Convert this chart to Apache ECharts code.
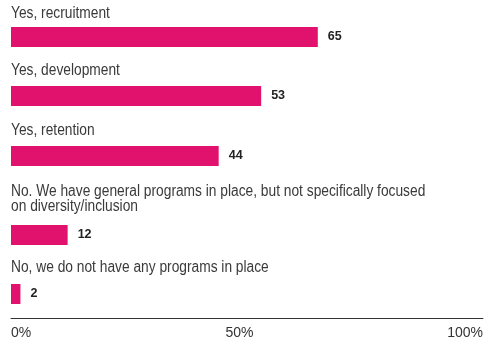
<!DOCTYPE html>
<html>
<head>
<meta charset="utf-8">
<script src="https://cdn.jsdelivr.net/npm/echarts@6/dist/echarts.min.js"></script>
<style>
html,body{margin:0;padding:0;background:#fff;}
#c{width:500px;height:356px;}
</style>
</head>
<body>
<div id="c"></div>
<script>
// ---- data ----
var categories = [
  "Yes, recruitment",
  "Yes, development",
  "Yes, retention",
  "No. We have general programs in place, but not specifically focused\non diversity/inclusion",
  "No, we do not have any programs in place"
];
var values = [65, 53, 44, 12, 2];
var tickValues = [0, 50, 100];
var tickLabels = ["0%", "50%", "100%"];

// ---- layout ----
var FONT = '"Liberation Sans", Arial, sans-serif';
var barTops = [27, 86, 146, 225, 284];
var labelMidY = [13.2, 70.3, 130.3, 199.3, 268];
var barH = 20;
var gridLeft = 11, gridRight = 17;
var BAR = '#E0126E';

var chart = echarts.init(document.getElementById('c'), null, {renderer: 'canvas'});
var grids = [], xAxes = [], yAxes = [], series = [], graphics = [];

for (var i = 0; i < categories.length; i++) {
  var last = i === categories.length - 1;
  grids.push({left: gridLeft, right: gridRight, top: barTops[i], height: barH});
  xAxes.push({
    gridIndex: i, type: 'value', min: 0, max: 100, interval: 50,
    show: last,
    position: 'bottom',
    offset: last ? 14 : 0,
    axisLine: {show: true, lineStyle: {color: '#333', width: 1}},
    axisTick: {show: false},
    splitLine: {show: false},
    axisLabel: {
      show: last,
      margin: 8,
      color: '#333',
      fontFamily: FONT,
      fontSize: 14,
      alignMinLabel: 'left',
      alignMaxLabel: 'right',
      formatter: function (v) {
        var k = tickValues.indexOf(v);
        var t = k >= 0 ? tickLabels[k] : '';
        return v === 50 ? '{m|' + t + '}' : t;
      },
      rich: {m: {fontFamily: FONT, fontSize: 14, color: '#333', padding: [0, 15, 0, 0]}}
    }
  });
  yAxes.push({
    gridIndex: i, type: 'category', data: [categories[i]], show: false
  });
  series.push({
    type: 'bar', xAxisIndex: i, yAxisIndex: i,
    data: [values[i]],
    barWidth: barH,
    itemStyle: {color: BAR},
    silent: true,
    label: {
      show: true, position: 'right', distance: 10,
      color: '#222', fontFamily: FONT, fontWeight: 'bold', fontSize: 12.5
    }
  });
  graphics.push({
    type: 'text',
    x: 11,
    y: labelMidY[i],
    scaleX: 0.86,
    silent: true,
    style: {
      text: categories[i],
      fontFamily: FONT,
      fontSize: 16,
      lineHeight: 15.5,
      fill: '#3a3a3a',
      textAlign: 'left',
      textVerticalAlign: 'middle',
      verticalAlign: 'middle'
    }
  });
}

chart.setOption({
  animation: false,
  backgroundColor: '#fff',
  grid: grids,
  xAxis: xAxes,
  yAxis: yAxes,
  series: series,
  graphic: graphics
});
</script>
</body>
</html>
